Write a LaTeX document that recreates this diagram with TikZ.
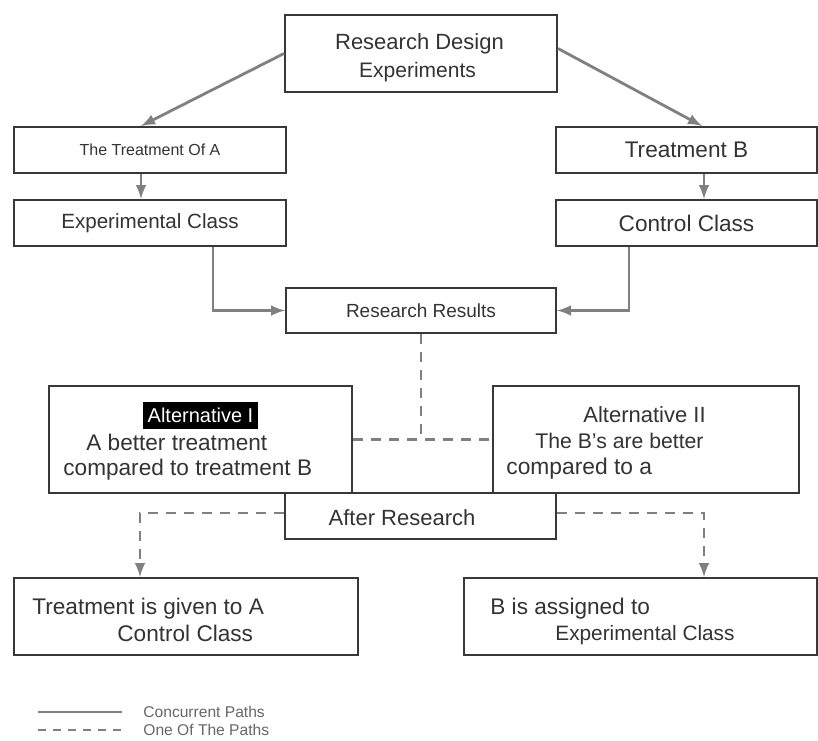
\documentclass[tikz,border=0pt]{standalone}
\usepackage{fontspec}
\setmainfont{Liberation Sans}
\usepackage{tikz}
\usetikzlibrary{arrows}
\usetikzlibrary{calc}
\definecolor{LineGray}{rgb}{0.5,0.5,0.5}
\definecolor{BoxGray}{rgb}{0.22,0.22,0.22}
\definecolor{TextGray}{rgb}{0.2,0.2,0.2}

\begin{document}
\begin{tikzpicture}[x=0.5pt,y=-0.5pt,
    box/.style={draw=BoxGray,line width=1pt,inner sep=0pt,text=TextGray,fill=white},
    txt/.style={inner sep=0pt,text=TextGray,text depth=0pt},
    conn/.style={draw=LineGray,line width=1.4pt,->,>=latex},
    path2/.style={draw=LineGray,line width=1.4pt,dash pattern=on 5pt off 4pt}]
      \useasboundingbox (0,0) rectangle (818,740);
      % top part
      \node[box,minimum width=136pt,minimum height=38.5pt] (design) at (421,53.5) {};
      \node[txt,font=\fontsize{11}{13}\selectfont] (designA) at (419.5,42) {Research Design};
      \node[txt,font=\fontsize{10.5}{12}\selectfont] (designB) at (417.5,70) {Experiments};
      \node[box,minimum width=136pt,minimum height=23pt,font=\fontsize{8}{10}\selectfont] (treatA) at (150,150) {The Treatment Of A};
      \node[box,minimum width=130.5pt,minimum height=23pt,font=\fontsize{11.3}{13}\selectfont] (treatB) at (686.5,150) {Treatment B};
      \node[box,minimum width=136pt,minimum height=23pt,font=\fontsize{10.3}{12}\selectfont] (expA) at (150,223) {Experimental Class};
      \node[box,minimum width=130.5pt,minimum height=23pt,font=\fontsize{11.3}{13}\selectfont] (ctrlB) at (686.5,223) {Control Class};
      \node[box,minimum width=135pt,minimum height=22.5pt,font=\fontsize{9.5}{11}\selectfont] (results) at (421,310.5) {Research Results};
      \draw[conn] (design.west) -- ([xshift=-4.5pt]treatA.north);
      \draw[conn] ([yshift=2.5pt]design.east) -- ([xshift=7.75pt]treatB.north);
      \draw[conn] ([xshift=-4.5pt]treatA.south) -- ([xshift=-4.5pt]expA.north);
      \draw[conn] ([xshift=8.75pt]treatB.south) -- ([xshift=8.75pt]ctrlB.north);
      \draw[conn] ([xshift=31.5pt]expA.south) |- (results.west);
      \draw[conn] ([xshift=-28.75pt]ctrlB.south) |- (results.east);
      % alternatives
      \node[box,minimum width=151.5pt,minimum height=53.5pt] (alt1) at (200.5,439.5) {};
      \node[box,minimum width=153pt,minimum height=53.5pt] (alt2) at (646,439.5) {};
      \node[fill=black,text=white,inner sep=0pt,minimum width=57.5pt,minimum height=13.5pt,font=\fontsize{10}{12}\selectfont] (alt1h) at (200.5,415.5) {Alternative I};
      \node[txt,anchor=west,font=\fontsize{11.3}{13}\selectfont] (alt1b) at (86,442) {A better treatment};
      \node[txt,anchor=west,font=\fontsize{11.3}{13}\selectfont] (alt1c) at (63,467) {compared to treatment B};
      \node[txt,anchor=west,font=\fontsize{11}{13}\selectfont] (alt2a) at (583,415) {Alternative II};
      \node[txt,anchor=west,font=\fontsize{10.6}{12}\selectfont] (alt2b) at (535,441) {The B's are better};
      \node[txt,anchor=west,font=\fontsize{11.4}{13}\selectfont] (alt2c) at (506,466) {compared to a};
      \draw[path2] (results.south) -- (results.south |- alt1.east);
      \draw[path2] (alt1.east) -- (alt2.west);
      % after research
      \node[box,minimum width=135.5pt,minimum height=23pt] (after) at (420.5,516) {};
      \node[txt,font=\fontsize{11}{13}\selectfont] (afterT) at (402,518) {After Research};
      \node[box,minimum width=172pt,minimum height=38.5pt] (giveA) at (186,616.5) {};
      \node[box,minimum width=176.5pt,minimum height=38.5pt] (assignB) at (640.5,616.5) {};
      \node[txt,anchor=west,font=\fontsize{11.3}{13}\selectfont] (giveAa) at (32,606) {Treatment is given to A};
      \node[txt,anchor=west,font=\fontsize{11.3}{13}\selectfont] (giveAb) at (117,633) {Control Class};
      \node[txt,anchor=west,font=\fontsize{11.3}{13}\selectfont] (assignBa) at (490,606) {B is assigned to};
      \node[txt,anchor=west,font=\fontsize{10.4}{12}\selectfont] (assignBb) at (555,633) {Experimental Class};
      \draw[path2,->,>=latex] ([yshift=1.5pt]after.west) -| ([xshift=-23pt]giveA.north);
      \draw[path2,->,>=latex] ([yshift=1.5pt]after.east) -| ([xshift=31.75pt]assignB.north);
      % legend
      \coordinate (solidA) at (38,712);
      \coordinate (solidB) at (122,712);
      \coordinate (dashA) at (38,730);
      \coordinate (dashB) at (122,730);
      \draw[draw=LineGray,line width=1pt] (solidA) -- (solidB);
      \draw[draw=LineGray,line width=1pt,dash pattern=on 4pt off 3.5pt] (dashA) -- (dashB);
      \node[txt,anchor=west,text=black!60,font=\fontsize{7.8}{9}\selectfont] (keyA) at (143,712) {Concurrent Paths};
      \node[txt,anchor=west,text=black!60,font=\fontsize{7.8}{9}\selectfont] (keyB) at (143,730) {One Of The Paths};
\end{tikzpicture}
\end{document}
